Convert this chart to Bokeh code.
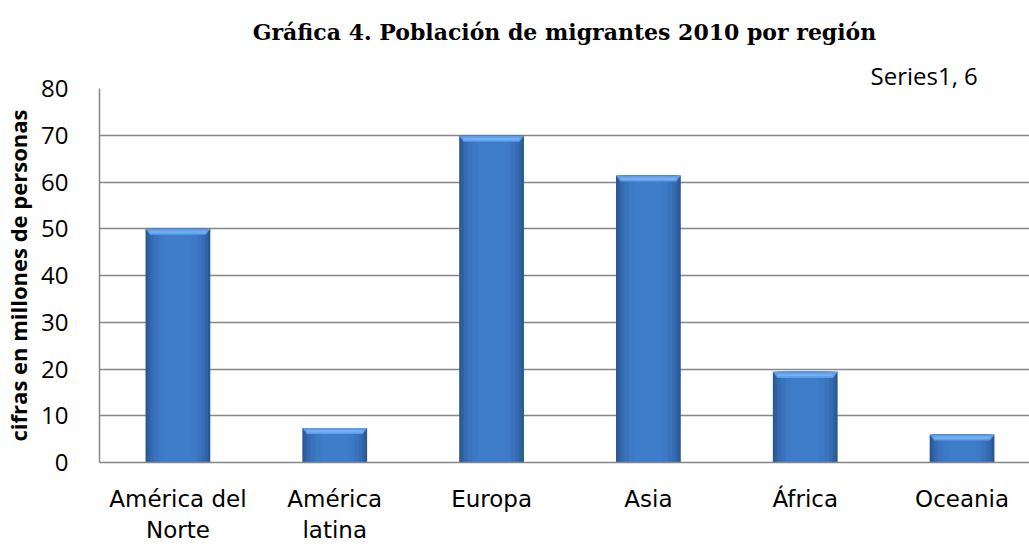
from bokeh.plotting import figure
from bokeh.models import Range1d, FixedTicker, Title, ColumnDataSource
from bokeh.embed import file_html
from bokeh.resources import INLINE

# ---- data ----
categories = ["América del\nNorte", "América\nlatina", "Europa", "Asia", "África", "Oceania"]
values = [50.0, 7.4, 69.9, 61.4, 19.4, 6.0]
y_ticks = [0, 10, 20, 30, 40, 50, 60, 70, 80]
title_text = "Gráfica 4. Población de migrantes 2010 por región"
y_label = "cifras en millones de personas"
series_name = "Series1"

FONT = "Open Sans"
XFONT = "DejaVu Sans"
xs = [i + 0.5 for i in range(len(categories))]
BAR_W = 0.413

p = figure(width=1029, height=546, output_backend="svg", toolbar_location=None,
           x_range=Range1d(0, 5.93), y_range=Range1d(0, 80),
           min_border_left=95, min_border_right=0, min_border_top=88, min_border_bottom=84)
p.outline_line_color = None
p.background_fill_color = "white"
p.border_fill_color = "white"
p.title = None

# data label (shown above the plot, right side) and main title
series_title = Title(text=f"{series_name}, {values[-1]:g}", align="left", offset=771,
                     text_font=FONT, text_font_style="normal", text_font_size="24px",
                     standoff=-6, text_color="#000000")
main_title = Title(text=title_text, align="center", offset=0, text_font="DejaVu Serif",
                   text_font_style="bold", text_font_size="22px", standoff=29,
                   text_color="#000000")
p.add_layout(series_title, "above")
p.add_layout(main_title, "above")

# bars with layered shading to mimic the bevelled gradient look
src = ColumnDataSource(dict(x=xs, top=values))
layers = [(1.00, "#2a5891"), (0.93, "#3062a3"), (0.85, "#356bb1"),
          (0.74, "#3a73bd"), (0.60, "#3d79c5"), (0.42, "#3f7dca")]
for frac, col in layers:
    p.vbar(x="x", top="top", bottom=0, width=BAR_W * frac, source=src,
           fill_color=col, line_color=None)

# top bevel (trapezoid) built from the bar values
bev_h = 1.3
bev_in = BAR_W * 0.07
bev_xs = [[x - BAR_W / 2, x + BAR_W / 2, x + BAR_W / 2 - bev_in, x - BAR_W / 2 + bev_in] for x in xs]
bev_ys = [[v, v, v - bev_h, v - bev_h] for v in values]
p.patches(bev_xs, bev_ys, fill_color="#5e9de8", line_color=None)
hl_xs = [[x - BAR_W / 2 + bev_in, x + BAR_W / 2 - bev_in, x + BAR_W / 2 - bev_in, x - BAR_W / 2 + bev_in] for x in xs]
hl_ys = [[v - bev_h * 0.35, v - bev_h * 0.35, v - bev_h * 0.75, v - bev_h * 0.75] for v in values]
p.patches(hl_xs, hl_ys, fill_color="#72b0f4", line_color=None)

# axes
p.yaxis.ticker = FixedTicker(ticks=y_ticks)
p.xaxis.ticker = FixedTicker(ticks=xs)
p.xaxis.major_label_overrides = {x: c for x, c in zip(xs, categories)}
for ax in (p.xaxis, p.yaxis):
    ax.major_tick_line_color = None
    ax.minor_tick_line_color = None
    ax.axis_line_color = "#868686"
    ax.axis_line_width = 1.5
    ax.major_label_text_color = "#000000"
p.yaxis.major_label_text_font = FONT
p.yaxis.major_label_text_font_size = "24px"
p.xaxis.major_label_text_font = XFONT
p.xaxis.major_label_text_font_size = "23px"
p.xaxis.major_label_standoff = 17
p.yaxis.major_label_standoff = 25
p.yaxis.axis_label = y_label
p.yaxis.axis_label_text_font = FONT
p.yaxis.axis_label_text_font_style = "bold"
p.yaxis.axis_label_text_font_size = "22px"
p.yaxis.axis_label_text_color = "#000000"
p.yaxis.axis_label_standoff = 5

p.xgrid.grid_line_color = None
p.ygrid.grid_line_color = "#868686"
p.ygrid.grid_line_width = 1.5
p.ygrid.level = "underlay"

open("out.html", "w").write(file_html(p, INLINE))
